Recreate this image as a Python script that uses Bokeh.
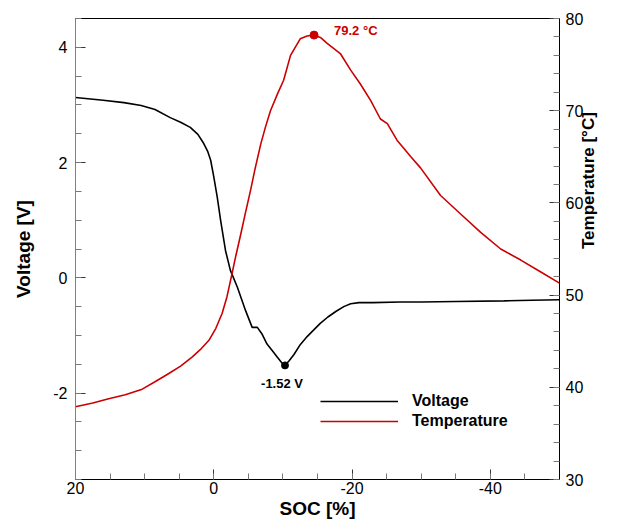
import math
from bokeh.plotting import figure
from bokeh.models import Range1d, LinearAxis, FixedTicker, Label
from bokeh.embed import file_html
from bokeh.resources import INLINE

# ---------------- data ----------------
soc_v = [20, 16, 13, 10.5, 8.5, 6.3, 4.8, 3.4, 2.3, 1.45, 0.9, 0.45, 0.0, -0.5, -1.0,
         -1.7, -2.4, -3.4, -4.6, -5.55, -6.3, -7.0, -7.7, -8.5, -9.2, -9.8, -10.3, -10.9,
         -11.6, -12.5, -13.5, -14.5, -15.4, -16.5, -17.7, -18.8, -19.8, -21, -23, -27,
         -30, -35, -42, -46, -50]
voltage = [3.13, 3.08, 3.04, 2.99, 2.92, 2.78, 2.70, 2.61, 2.49, 2.33, 2.20, 2.04, 1.75,
           1.40, 0.99, 0.47, 0.13, -0.16, -0.57, -0.86, -0.86, -0.98, -1.15, -1.27, -1.38,
           -1.47, -1.52, -1.44, -1.33, -1.16, -1.02, -0.90, -0.79, -0.68, -0.58, -0.50,
           -0.45, -0.43, -0.43, -0.42, -0.42, -0.41, -0.40, -0.39, -0.38]

soc_t = [20, 17.5, 15.2, 12.8, 10.35, 8.5, 6.5, 4.8, 3.1, 1.8, 0.7, -0.3, -1.2, -1.9,
         -2.6, -3.2, -3.9, -4.6, -5.3, -6.0, -6.8, -7.5, -8.2, -9.2, -10.1, -11.1, -12.5,
         -13.5, -14.5, -15.5, -16.4, -18.3, -19.8, -21.2, -22.7, -24.1, -25.1, -26.5,
         -28.5, -29.9, -32.8, -35.7, -38.6, -41.5, -44.4, -47.3, -50]
temperature = [37.9, 38.3, 38.75, 39.2, 39.8, 40.6, 41.5, 42.3, 43.3, 44.2, 45.1, 46.4,
               48.0, 49.8, 52.2, 54.3, 56.6, 59.0, 61.3, 63.8, 66.4, 68.3, 70.0, 71.8,
               73.3, 76.0, 77.8, 78.1, 78.2, 77.9, 77.3, 76.2, 74.4, 72.9, 71.1, 69.1,
               68.6, 66.8, 65.0, 63.8, 60.8, 58.8, 56.8, 55.0, 53.8, 52.5, 51.3]

x_major = [20, 0, -20, -40]
x_labels = ["20", "0", "-20", "-40"]
x_minor = [20, 15, 10, 5, 0, -5, -10, -15, -20, -25, -30, -35, -40, -45, -50]
v_major = [-2, 0, 2, 4]
v_labels = ["-2", "0", "2", "4"]
v_minor = [-3.5, -3, -2.5, -2, -1.5, -1, -0.5, 0, 0.5, 1, 1.5, 2, 2.5, 3, 3.5, 4, 4.5]
t_major = [30, 40, 50, 60, 70, 80]
t_labels = ["30", "40", "50", "60", "70", "80"]
t_minor = [30, 32, 34, 36, 38, 40, 42, 44, 46, 48, 50, 52, 54, 56, 58, 60, 62, 64, 66,
           68, 70, 72, 74, 76, 78, 80]
peak_text = "79.2 °C"

FONT = "Liberation Sans"
RED = "#CC0000"

# extremes taken from the series
i_min = voltage.index(min(voltage))
min_soc, min_v = soc_v[i_min], voltage[i_min]
i_max = temperature.index(max(temperature))
max_soc, max_t = soc_t[i_max], temperature[i_max]

p = figure(width=611, height=521, output_backend="svg", toolbar_location=None,
           x_range=Range1d(20, -50), y_range=Range1d(-3.5, 4.5),
           min_border_left=75, min_border_right=52, min_border_top=18,
           min_border_bottom=42)
p.extra_y_ranges = {"temp": Range1d(30, 80)}
p.xgrid.visible = False
p.ygrid.visible = False
p.outline_line_color = "black"
p.background_fill_color = "white"
p.border_fill_color = "white"

# lines
p.line(soc_v, voltage, line_color="black", line_width=1.6, legend_label="Voltage")
p.line(soc_t, temperature, line_color=RED, line_width=1.6, legend_label="Temperature",
       y_range_name="temp")

# marker points
p.scatter([min_soc], [min_v], size=7, color="black")
p.scatter([max_soc], [max_t], size=8, color=RED, y_range_name="temp")

p.add_layout(Label(x=min_soc, y=min_v, text=f"{min_v:.2f} V", x_offset=-3, y_offset=-18,
                   text_align="center", text_baseline="middle", text_font=FONT,
                   text_font_size="13px", text_font_style="bold", text_color="black"))
p.add_layout(Label(x=max_soc, y=max_t, y_range_name="temp", text=peak_text, x_offset=20,
                   y_offset=5, text_align="left", text_baseline="middle", text_font=FONT,
                   text_font_size="13px", text_font_style="bold", text_color=RED))

def style_axis(ax, major, labels, minor, label, standoff, title_standoff, title_size):
    ax.ticker = FixedTicker(ticks=major, minor_ticks=minor)
    ax.major_label_overrides = {m: s for m, s in zip(major, labels)}
    ax.axis_label = label
    ax.axis_label_text_font = FONT
    ax.axis_label_text_font_style = "bold"
    ax.axis_label_text_font_size = title_size
    ax.axis_label_text_color = "black"
    ax.axis_label_standoff = title_standoff
    ax.major_label_text_font = FONT
    ax.major_label_text_font_size = "16px"
    ax.major_label_text_color = "black"
    ax.major_label_standoff = standoff
    ax.major_tick_in = 10
    ax.major_tick_out = 0
    ax.minor_tick_in = 6
    ax.minor_tick_out = 0
    ax.major_tick_line_color = "#333333"
    ax.minor_tick_line_color = "#777777"
    ax.axis_line_color = "black"

style_axis(p.xaxis[0], x_major, x_labels, x_minor, "SOC [%]", 2, 1, "19px")
style_axis(p.yaxis[0], v_major, v_labels, v_minor, "Voltage [V]", 8, 16, "19px")
p.yaxis[0].axis_line_color = "#808080"
p.yaxis[0].major_label_orientation = "horizontal"

rax = LinearAxis(y_range_name="temp")
style_axis(rax, t_major, t_labels, t_minor, "Temperature [°C]", 6, 2, "17px")
rax.axis_label_orientation = math.pi / 2
p.add_layout(rax, "right")

# legend
lg = p.legend[0]
lg.location = (245, 48)
lg.padding = 0
lg.margin = 0
lg.spacing = 0
lg.glyph_width = 78
lg.glyph_height = 20
lg.label_height = 20
lg.label_standoff = 14
lg.label_text_font = FONT
lg.label_text_font_size = "16px"
lg.label_text_font_style = "bold"
lg.label_text_color = "black"
lg.background_fill_alpha = 0
lg.border_line_alpha = 0

open("out.html", "w").write(file_html(p, INLINE))
